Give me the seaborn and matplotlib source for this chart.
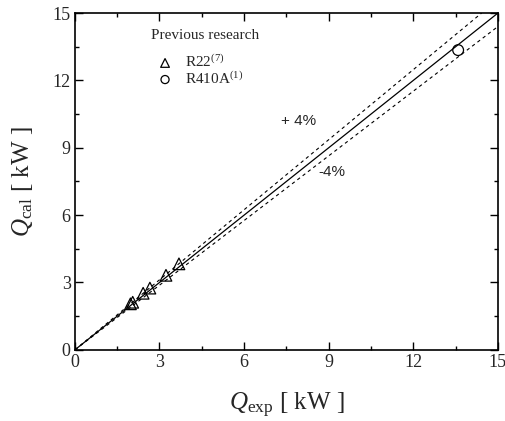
import numpy as np
import pandas as pd
import matplotlib
matplotlib.use("Agg")
import matplotlib.pyplot as plt
import seaborn as sns
from matplotlib.ticker import MultipleLocator

sns.set_style("ticks")
plt.rcParams['font.family'] = ['Liberation Serif', 'DejaVu Serif']
plt.rcParams['mathtext.fontset'] = 'custom'
plt.rcParams['mathtext.rm'] = 'Liberation Serif'
plt.rcParams['mathtext.it'] = 'Liberation Serif:italic'

# data
r22_exp = [1.97, 2.05, 2.42, 2.66, 3.23, 3.69]
r22_cal = [2.05, 2.12, 2.52, 2.75, 3.32, 3.83]
r410a_exp = [13.59]
r410a_cal = [13.35]
ref_x = [0, 15]
plus_dev = 0.04
minus_dev = -0.04

fig = plt.figure(figsize=(5.06, 4.21), dpi=100)
ax = fig.add_axes([0.148, 0.169, 0.836, 0.800])

line_df = pd.DataFrame({"x": ref_x, "y": ref_x})
sns.lineplot(data=line_df, x="x", y="y", ax=ax, color="black", lw=0.9)
xp = [0, 15 / (1 + plus_dev)]
sns.lineplot(x=xp, y=[v * (1 + plus_dev) for v in xp], ax=ax, color="black",
             lw=0.8, linestyle=(0, (3, 3)))
sns.lineplot(x=ref_x, y=[v * (1 + minus_dev) for v in ref_x], ax=ax, color="black",
             lw=0.8, linestyle=(0, (3, 3)))

sns.scatterplot(x=r22_exp, y=r22_cal, ax=ax, marker="^", s=70,
                facecolor="none", edgecolor="black", linewidth=0.9,
                label=r"R22$^{\mathregular{(7)}}$", zorder=5)
sns.scatterplot(x=r410a_exp, y=r410a_cal, ax=ax, marker="o", s=60,
                facecolor="none", edgecolor="black", linewidth=0.9,
                label=r"R410A$^{\mathregular{(1)}}$", zorder=5)

ax.set_xlim(0, 15)
ax.set_ylim(0, 15)
ax.xaxis.set_major_locator(MultipleLocator(3))
ax.yaxis.set_major_locator(MultipleLocator(3))
ax.xaxis.set_minor_locator(MultipleLocator(1.5))
ax.yaxis.set_minor_locator(MultipleLocator(1.5))
ax.tick_params(which="both", direction="in", top=True, right=True,
               labelsize=13, width=1, color="black", pad=3)
ax.tick_params(which="major", length=6)
ax.tick_params(which="minor", length=3)
for sp in ax.spines.values():
    sp.set_linewidth(1.2)
    sp.set_color("black")

ax.set_xlabel(r"$Q_{\mathregular{exp}}$ [ kW ]", fontsize=18, labelpad=14)
ax.set_ylabel(r"$Q_{\mathregular{cal}}$ [ kW ]", fontsize=18, labelpad=13)

ax.text(7.94, 10.19, "+ 4%", fontsize=11, family="Liberation Sans",
        ha="center", va="center")
ax.text(9.11, 7.92, "-4%", fontsize=11, family="Liberation Sans",
        ha="center", va="center")

ax.text(0.307, 0.932, "Previous research", transform=ax.transAxes,
        fontsize=11, ha="center", va="center")
leg = ax.legend(frameon=False, fontsize=11, loc="upper left",
                bbox_to_anchor=(0.177, 0.903), borderpad=0,
                handletextpad=0.8, labelspacing=0.0, markerscale=0.75,
                handlelength=1.0)

fig.savefig("out.png", dpi=100)
